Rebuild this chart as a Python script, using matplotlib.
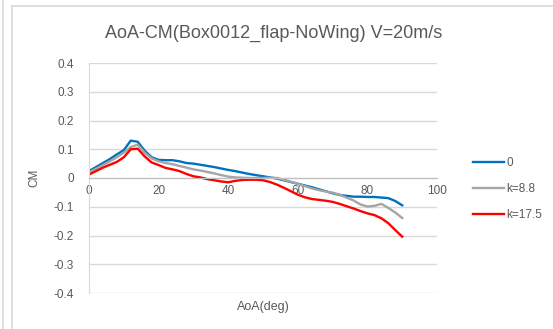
import matplotlib
matplotlib.use("Agg")
import matplotlib.pyplot as plt
from matplotlib.lines import Line2D

# angle of attack (deg) and moment coefficient for each flap setting
aoa = [0, 2, 4, 6, 8, 10, 12, 14, 16, 18, 20, 22, 24, 26, 28, 30, 32, 34, 36, 38,
       40, 42, 44, 46, 48, 50, 52, 54, 56, 58, 60, 62, 64, 66, 68, 70, 72, 74, 76,
       78, 80, 82, 84, 86, 88, 90]

cm_0 = [0.024, 0.038, 0.052, 0.066, 0.082, 0.097, 0.130, 0.126, 0.095, 0.072,
        0.063, 0.062, 0.062, 0.058, 0.052, 0.050, 0.046, 0.042, 0.038, 0.033,
        0.028, 0.024, 0.019, 0.014, 0.010, 0.006, 0.002, -0.002, -0.008, -0.014,
        -0.020, -0.026, -0.032, -0.039, -0.046, -0.053, -0.059, -0.062, -0.065,
        -0.065, -0.066, -0.066, -0.068, -0.070, -0.080, -0.095]

cm_k88 = [0.020, 0.032, 0.045, 0.058, 0.072, 0.088, 0.108, 0.116, 0.088, 0.068,
          0.058, 0.052, 0.048, 0.042, 0.036, 0.030, 0.026, 0.021, 0.016, 0.010,
          0.005, 0.002, 0.001, 0.000, 0.000, 0.000, 0.001, 0.000, -0.006, -0.013,
          -0.020, -0.028, -0.036, -0.042, -0.047, -0.051, -0.058, -0.068, -0.078,
          -0.092, -0.099, -0.097, -0.090, -0.104, -0.120, -0.139]

cm_k175 = [0.012, 0.024, 0.036, 0.046, 0.056, 0.072, 0.100, 0.102, 0.075, 0.054,
           0.045, 0.035, 0.030, 0.024, 0.014, 0.006, 0.002, -0.004, -0.008, -0.012,
           -0.015, -0.010, -0.007, -0.006, -0.006, -0.008, -0.014, -0.023, -0.034,
           -0.046, -0.058, -0.067, -0.073, -0.076, -0.079, -0.083, -0.090, -0.098,
           -0.106, -0.115, -0.123, -0.129, -0.140, -0.157, -0.181, -0.204]

series_names = ["0", "k=8.8", "k=17.5"]
series_colors = ["#0070C0", "#A5A5A5", "#FF0000"]

xticks = [0, 20, 40, 60, 80, 100]
yticks = [-0.4, -0.3, -0.2, -0.1, 0, 0.1, 0.2, 0.3, 0.4]

plt.rcParams["font.family"] = ["Liberation Sans", "DejaVu Sans"]
txt = "#595959"

fig = plt.figure(figsize=(5.53, 3.29), dpi=100)
fig.patch.set_facecolor("white")

# chart frame and the neighbouring chart's edge
fig.add_artist(Line2D([3 / 553, 3 / 553], [0, 1], color="#d9d9d9", lw=1.2))
fig.add_artist(Line2D([12 / 553, 12 / 553], [0, 1 - 6 / 329], color="#d9d9d9", lw=1.2))
fig.add_artist(Line2D([12 / 553, 1], [1 - 6 / 329, 1 - 6 / 329], color="#d9d9d9", lw=1.2))

ax = fig.add_axes([89 / 553, 1 - 293 / 329, (437 - 89) / 553, (293 - 63) / 329])

for y, name, col in zip([cm_0, cm_k88, cm_k175], series_names, series_colors):
    ax.plot(aoa, y, color=col, lw=1.7, label=name, solid_joinstyle="round")

ax.set_xlim(0, 100)
ax.set_ylim(-0.4, 0.4)
ax.set_xticks(xticks)
ax.set_yticks(yticks)
ax.set_yticklabels([f"{v:g}" for v in yticks])
ax.grid(axis="y", color="#d9d9d9", lw=1)
ax.set_axisbelow(True)

for s in ["top", "right"]:
    ax.spines[s].set_visible(False)
ax.spines["left"].set_color("#d9d9d9")
ax.spines["bottom"].set_position(("data", 0))
ax.spines["bottom"].set_color("#bfbfbf")
ax.tick_params(axis="both", length=0, labelsize=8.5, colors=txt)
ax.tick_params(axis="x", pad=5)
ax.tick_params(axis="y", pad=11)

ax.set_ylabel("CM", fontsize=8.5, color=txt, labelpad=9)
fig.text(263 / 553, 1 - 307 / 329, "AoA(deg)", ha="center", va="center",
         fontsize=9, color=txt)
fig.text(274 / 553, 1 - 33 / 329, "AoA-CM(Box0012_flap-NoWing) V=20m/s",
         ha="center", va="center", fontsize=13, color=txt)

fig.legend(loc="center left", bbox_to_anchor=(473 / 553, 1 - 189 / 329),
           frameon=False, fontsize=8.5, handlelength=2.6, handletextpad=0.2,
           labelspacing=1.2, borderpad=0, borderaxespad=0, labelcolor=txt)

fig.savefig("out.png", dpi=100)
